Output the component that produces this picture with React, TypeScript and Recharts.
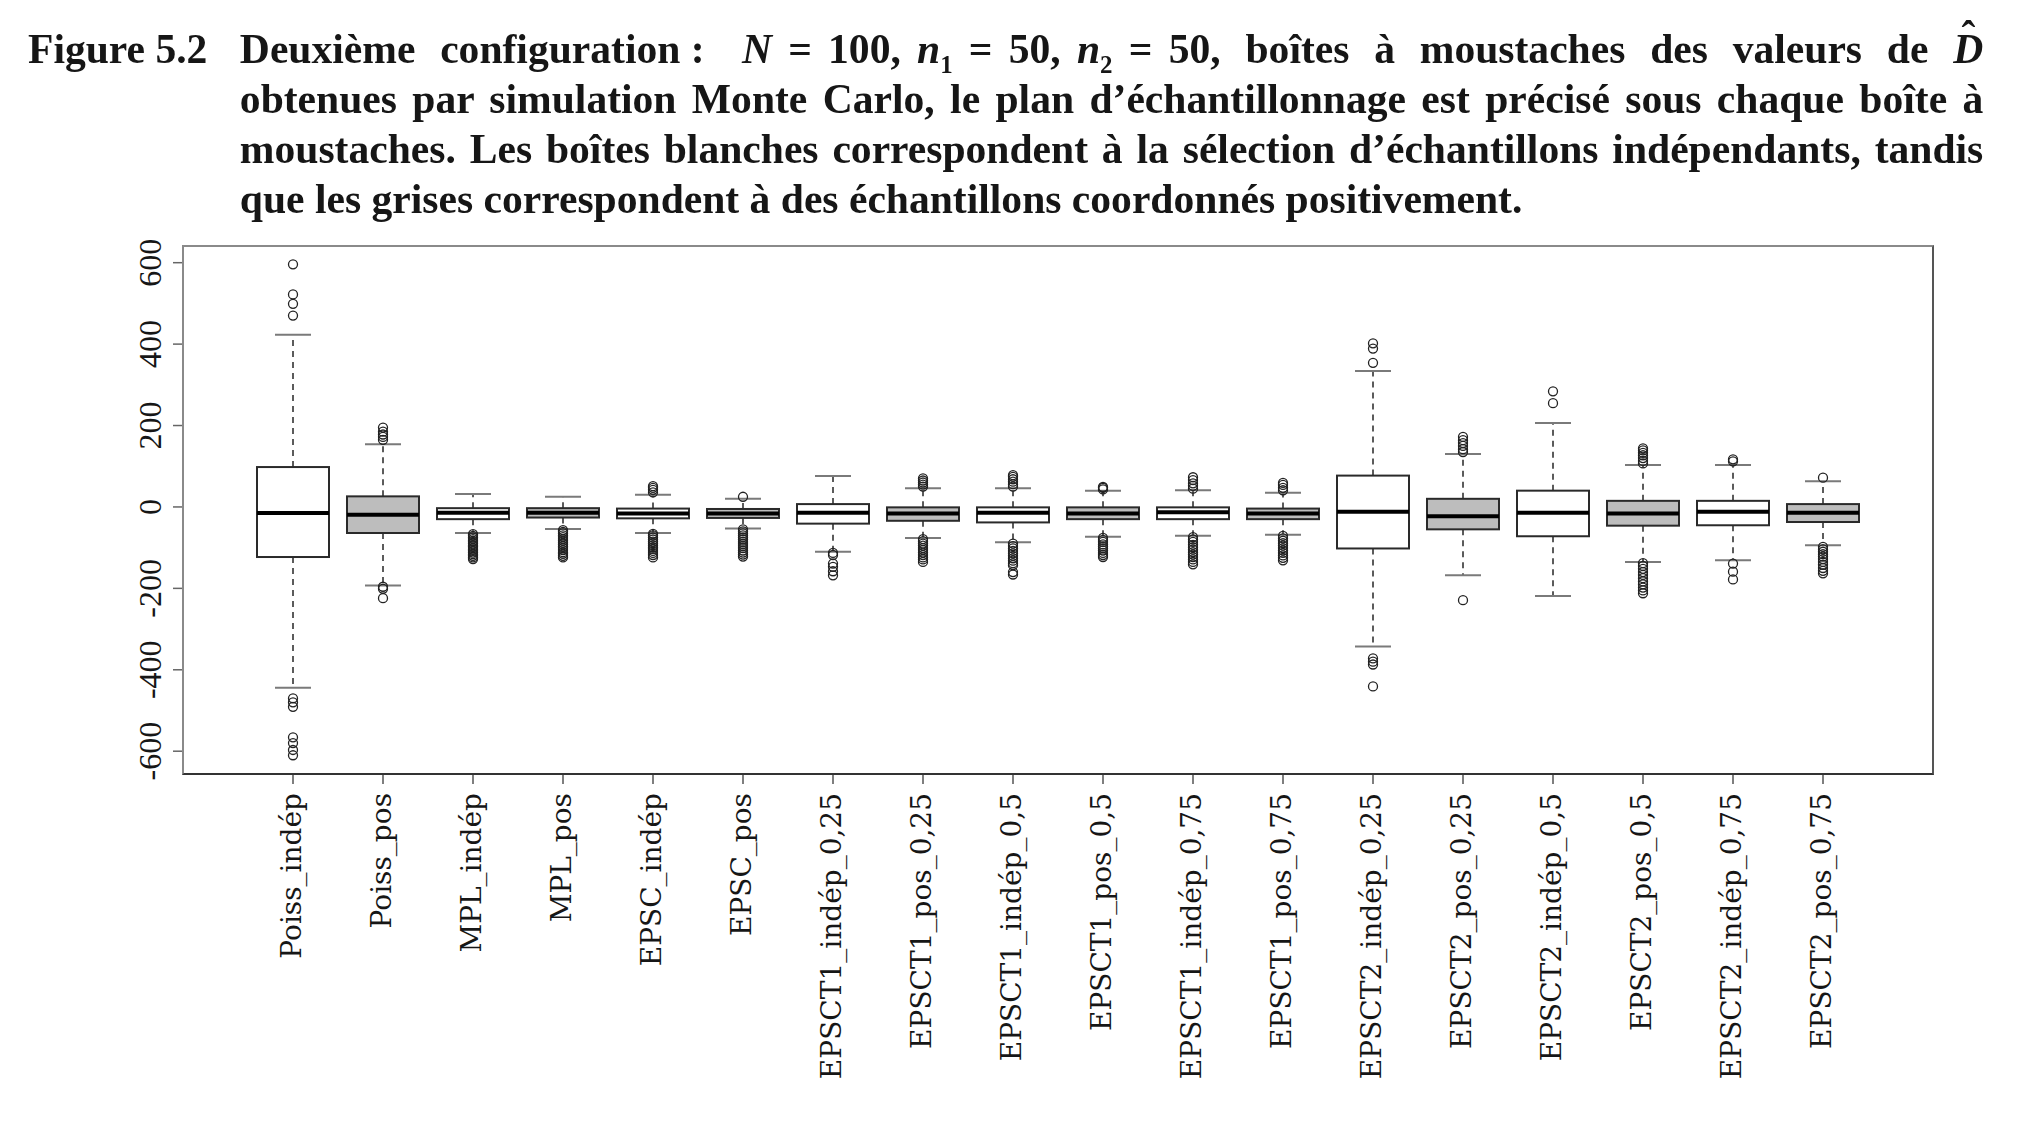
import React from "react";
import { Bar, ComposedChart, Scatter, XAxis, YAxis } from "recharts";

// plans d'échantillonnage (un par boîte), dans l'ordre de la figure
const labels = [
  "Poiss_indép", "Poiss_pos", "MPL_indép", "MPL_pos", "EPSC_indép", "EPSC_pos",
  "EPSCT1_indép_0,25", "EPSCT1_pos_0,25", "EPSCT1_indép_0,5", "EPSCT1_pos_0,5",
  "EPSCT1_indép_0,75", "EPSCT1_pos_0,75", "EPSCT2_indép_0,25", "EPSCT2_pos_0,25",
  "EPSCT2_indép_0,5", "EPSCT2_pos_0,5", "EPSCT2_indép_0,75", "EPSCT2_pos_0,75",
];

const lowWhisker = [-444, -193, -64, -54, -64, -53, -110, -76, -87, -73, -71, -68, -343, -168, -219, -135, -131, -94];
const q1 = [-123, -64, -30, -26, -28, -27, -41, -34, -38, -30, -30, -30, -102, -55, -72, -46, -45, -37];
const median = [-15, -19, -14, -14, -16, -16, -14, -16, -14, -16, -13, -16, -12, -23, -14, -16, -12, -14];
const q3 = [98, 26, -3, -3, -4, -5, 7, -1, -1, -1, -1, -4, 77, 20, 40, 15, 15, 7];
const highWhisker = [423, 154, 32, 25, 30, 20, 76, 46, 46, 40, 41, 35, 334, 130, 206, 103, 103, 63];

const outliers: number[][] = [
  [596, 522, 499, 470, -470, -480, -491, -566, -580, -597, -610],
  [195, 185, 178, 172, 165, -196, -201, -224],
  [-67, -71, -75, -79, -83, -86, -90, -94, -97, -101, -105, -108, -112, -116, -120, -124, -128],
  [-57, -61, -65, -70, -74, -79, -83, -88, -92, -97, -101, -106, -111, -115, -120, -124],
  [36, 42, 47, 51, -66, -70, -75, -80, -85, -89, -94, -99, -103, -108, -113, -118, -124],
  [25, -55, -60, -65, -70, -75, -80, -86, -91, -96, -101, -107, -112, -117, -122],
  [-113, -118, -139, -147, -158, -168],
  [50, 55, 60, 65, 70, -79, -84, -90, -95, -101, -106, -112, -118, -124, -129, -135],
  [50, 56, 62, 68, 74, 78, -90, -96, -102, -108, -114, -120, -126, -132, -138, -143, -160, -166],
  [43, 47, 49, -76, -81, -86, -92, -97, -102, -107, -113, -118, -123],
  [45, 52, 58, 66, 73, -74, -80, -86, -93, -99, -105, -111, -117, -123, -129, -135, -141],
  [41, 47, 54, 59, -71, -77, -83, -89, -95, -101, -107, -113, -119, -125, -131],
  [402, 389, 354, -372, -380, -387, -441],
  [172, 164, 157, 150, 142, 135, -229],
  [284, 255],
  [144, 139, 133, 127, 120, 113, 107, -138, -145, -152, -160, -167, -175, -183, -190, -198, -205, -212],
  [117, 112, -139, -159, -178],
  [72, -98, -104, -110, -116, -122, -128, -135, -142, -150, -157, -163],
];

const yTicks = [-600, -400, -200, 0, 200, 400, 600];

const data = labels.map((name, i) => ({
  name,
  lo: lowWhisker[i],
  q1: q1[i],
  med: median[i],
  q3: q3[i],
  hi: highWhisker[i],
  pos: name.includes("_pos"),
}));

const outlierPoints = labels.flatMap((name, i) => outliers[i].map((v) => ({ name, v })));

const INK = "#161616";

// boîte à moustaches dessinée dans l'étendue [lo, hi] de la barre
const BoxShape = (props: any) => {
  const { x, y, width, height, payload } = props;
  const top = Math.min(y, y + height);
  const bottom = Math.max(y, y + height);
  const { lo, hi } = payload;
  const py = (v: number) => top + ((bottom - top) * (hi - v)) / (hi - lo);
  const cx = x + width / 2;
  const cap = width / 4;
  return (
    <g>
      <line x1={cx} x2={cx} y1={py(payload.q3)} y2={top} stroke="#333" strokeWidth={1.6} strokeDasharray="6 5" />
      <line x1={cx} x2={cx} y1={py(payload.q1)} y2={bottom} stroke="#333" strokeWidth={1.6} strokeDasharray="6 5" />
      <line x1={cx - cap} x2={cx + cap} y1={top} y2={top} stroke="#7a7a7a" strokeWidth={2} />
      <line x1={cx - cap} x2={cx + cap} y1={bottom} y2={bottom} stroke="#7a7a7a" strokeWidth={2} />
      <rect
        x={x}
        y={py(payload.q3)}
        width={width}
        height={py(payload.q1) - py(payload.q3)}
        fill={payload.pos ? "#bdbdbd" : "#ffffff"}
        stroke="#2a2a2a"
        strokeWidth={2}
      />
      <line x1={x} x2={x + width} y1={py(payload.med)} y2={py(payload.med)} stroke="#000" strokeWidth={4} />
    </g>
  );
};

const OutlierDot = (p: any) => (
  <circle cx={p.cx} cy={p.cy} r={4.5} fill="none" stroke="#222" strokeWidth={1.3} />
);

const YTick = ({ x, y, payload }: any) => (
  <text
    x={x}
    y={y}
    transform={`rotate(-90, ${x}, ${y})`}
    textAnchor="middle"
    fontFamily="'Liberation Serif', serif"
    fontSize={32}
    fill={INK}
  >
    {payload.value}
  </text>
);

const XTick = ({ x, y, payload }: any) => (
  <text
    x={x}
    y={y}
    dy="0.3em"
    transform={`rotate(-90, ${x}, ${y})`}
    textAnchor="end"
    fontFamily="'DejaVu Serif', serif"
    fontSize={28}
    fill={INK}
  >
    {payload.value}
  </text>
);

const line: React.CSSProperties = {
  height: 50,
  lineHeight: "50px",
  textAlign: "justify",
  textAlignLast: "justify",
};

const sub: React.CSSProperties = { fontSize: "0.6em", verticalAlign: "-0.4em", lineHeight: 0 };
const group: React.CSSProperties = { display: "inline-block", whiteSpace: "nowrap" };

export default function App() {
  return (
    <div style={{ position: "absolute", left: 0, top: 0, width: 2022, height: 1125, background: "#fff" }}>
      <ComposedChart
        width={2022}
        height={1125}
        data={data}
        margin={{ top: 246, right: 89, bottom: 51, left: 123 }}
      >
        <XAxis
          dataKey="name"
          type="category"
          allowDuplicatedCategory={false}
          interval={0}
          height={300}
          padding={{ left: 65, right: 65 }}
          axisLine={false}
          tickSize={10}
          tickMargin={9}
          tickLine={{ stroke: "#555", strokeWidth: 1.5 }}
          tick={<XTick />}
        />
        <YAxis
          type="number"
          width={60}
          domain={[-656, 641]}
          allowDataOverflow
          ticks={yTicks}
          axisLine={false}
          tickSize={10}
          tickMargin={12}
          tickLine={{ stroke: "#666", strokeWidth: 1.5 }}
          tick={<YTick />}
        />
        <Bar
          dataKey={(d: any) => [d.lo, d.hi]}
          barSize={72}
          shape={<BoxShape />}
          isAnimationActive={false}
        />
        <Scatter data={outlierPoints} dataKey="v" shape={<OutlierDot />} isAnimationActive={false} />
      </ComposedChart>

      {/* cadre du graphique */}
      <div
        style={{
          position: "absolute",
          left: 182,
          top: 245,
          width: 1748,
          height: 526,
          borderStyle: "solid",
          borderWidth: 2,
          borderColor: "#8a8a8a #555 #333 #8a8a8a",
          pointerEvents: "none",
        }}
      />

      {/* légende de la figure */}
      <div
        style={{
          position: "absolute",
          left: 28,
          top: 24,
          width: 1976,
          transform: "scaleX(0.99)",
          transformOrigin: "0 0",
          fontFamily: "'Liberation Serif', serif",
          fontWeight: "bold",
          fontSize: 42,
          color: INK,
        }}
      >
        <div style={{ position: "absolute", left: 0, top: 0, lineHeight: "50px", whiteSpace: "nowrap" }}>
          Figure 5.2
        </div>
        <div style={{ marginLeft: 214, width: 1761 }}>
          <div style={line}>
            Deuxième <span style={group}>configuration :</span>{" "}
            <span style={{ ...group, wordSpacing: "0.14em", marginLeft: "0.3em" }}>
              <i>N</i> = 100, <i>n</i>
              <span style={sub}>1</span> = 50, <i>n</i>
              <span style={sub}>2</span> = 50,
            </span>{" "}
            boîtes à moustaches des valeurs de{" "}
            <span style={{ position: "relative", fontStyle: "italic", display: "inline-block" }}>
              D
              <span
                style={{
                  position: "absolute",
                  left: "0.2em",
                  top: "-0.21em",
                  fontStyle: "normal",
                  lineHeight: 1,
                }}
              >
                ˆ
              </span>
            </span>
          </div>
          <div style={line}>
            obtenues par simulation Monte Carlo, le plan d’échantillonnage est précisé sous chaque boîte à
          </div>
          <div style={line}>
            moustaches. Les boîtes blanches correspondent à la sélection d’échantillons indépendants, tandis
          </div>
          <div style={{ ...line, textAlign: "left", textAlignLast: "left" }}>
            que les grises correspondent à des échantillons coordonnés positivement.
          </div>
        </div>
      </div>
    </div>
  );
}
